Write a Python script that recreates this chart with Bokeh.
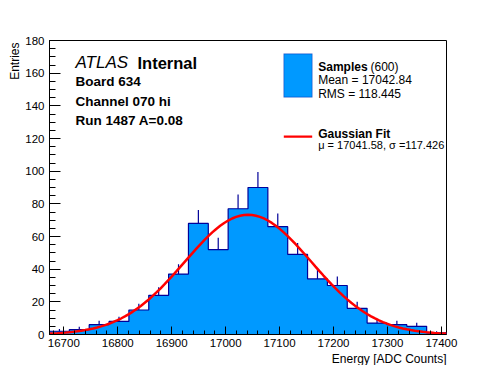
import numpy as np
from bokeh.plotting import figure
from bokeh.models import Range1d, FixedTicker, Label, BoxAnnotation, Title
from bokeh.embed import file_html
from bokeh.resources import INLINE

# ---- data ----
bin_low = 16673.5
bin_width = 36.8
counts = [2, 3, 6, 8, 15, 24, 37, 68, 52, 77, 90, 66, 49, 34, 30, 16, 7, 6, 5, 1]
fit_const = 73.3
fit_mu = 17041.58
fit_sigma = 117.426
x_ticks = [16700, 16800, 16900, 17000, 17100, 17200, 17300, 17400]
x_minor = list(range(16680, 17410, 20))
y_ticks = [0, 20, 40, 60, 80, 100, 120, 140, 160, 180]
y_minor = list(range(0, 181, 5))
y_max = 180

FONT = "Liberation Sans"
FILL = "#0099ff"
NAVY = "#000099"

n = len(counts)
edges = bin_low + bin_width * np.arange(n + 1)
cnt = np.array(counts, dtype=float)
centers = 0.5 * (edges[:-1] + edges[1:])

p = figure(frame_width=397, frame_height=294,
           min_border_left=49, min_border_right=42,
           min_border_top=40, min_border_bottom=30,
           x_range=Range1d(edges[0], edges[-1]), y_range=Range1d(0, y_max),
           output_backend="svg", toolbar_location=None)
p.background_fill_color = "white"
p.border_fill_color = "white"
p.outline_line_color = "black"
p.outline_line_width = 1
p.grid.visible = False

# histogram as a step polygon (fill) + outline
xs = np.repeat(edges, 2)
ys = np.concatenate([[0], np.repeat(cnt, 2), [0]])
p.patch(xs, ys, fill_color=FILL, line_color=None)
# error bars (upper half)
p.segment(x0=centers, y0=cnt, x1=centers, y1=cnt + np.sqrt(cnt),
          line_color=NAVY, line_width=1.2)
p.line(xs, ys, line_color=NAVY, line_width=1.2)

# gaussian fit
fx = np.linspace(edges[0], edges[-1], 101)
fy = fit_const * np.exp(-0.5 * ((fx - fit_mu) / fit_sigma) ** 2)
p.line(fx, fy, line_color="#ff0000", line_width=2.5)

# axes
for ax in (p.xaxis[0], p.yaxis[0]):
    ax.axis_line_color = "black"
    ax.major_tick_line_color = "black"
    ax.minor_tick_line_color = "black"
    ax.major_tick_out = 0
    ax.minor_tick_out = 0
    ax.major_label_text_font = FONT
    ax.major_label_text_font_size = "11.5px"
    ax.major_label_text_color = "black"
p.xaxis.ticker = FixedTicker(ticks=x_ticks, minor_ticks=x_minor)
p.yaxis.ticker = FixedTicker(ticks=y_ticks, minor_ticks=y_minor)
p.xaxis.major_tick_in = 8
p.xaxis.minor_tick_in = 4
p.yaxis.major_tick_in = 11
p.yaxis.minor_tick_in = 6
p.xaxis.major_label_standoff = 4
p.yaxis.major_label_standoff = 5

# axis titles (outside the frame)
p.add_layout(Title(text="Entries", align="right", text_font=FONT, text_font_size="12px",
                   text_font_style="normal", text_color="black", standoff=2, offset=2), "left")
p.add_layout(Title(text="Energy [ADC Counts]", align="right", text_font=FONT,
                   text_font_size="12px", text_font_style="normal", text_color="black",
                   standoff=0), "below")

# page -> frame screen coords
FL, FB = 49, 334


def lab(px, py, text, size, style="normal", align="left"):
    p.add_layout(Label(x=px - FL, y=FB - py, x_units="screen", y_units="screen",
                       text=text, text_font=FONT, text_font_size=size,
                       text_font_style=style, text_align=align,
                       text_baseline="alphabetic", text_color="black"))


lab(75, 62, "ATLAS", "17px", style="italic")
lab(137, 62, "Internal", "16.5px", style="bold")
lab(75, 80.7, "Board 634", "13.5px", style="bold")
lab(75, 100.7, "Channel 070 hi", "13.5px", style="bold")
lab(75, 120.3, "Run 1487 A=0.08", "13.5px", style="bold")

# legend
p.add_layout(BoxAnnotation(left=283.3 - FL, right=311.7 - FL, top=FB - 53.3, bottom=FB - 96.7,
                           left_units="screen", right_units="screen",
                           top_units="screen", bottom_units="screen",
                           fill_color=FILL, fill_alpha=1, line_color=NAVY, line_width=1.2))
p.add_layout(BoxAnnotation(left=283.3 - FL, right=311.7 - FL, top=FB - 135, bottom=FB - 137.2,
                           left_units="screen", right_units="screen",
                           top_units="screen", bottom_units="screen",
                           fill_color="#ff0000", fill_alpha=1, line_color=None))
lab(317.7, 66, "Samples", "12px", style="bold")
lab(370, 66, "(600)", "12px")
lab(317.7, 79.5, "Mean = 17042.84", "12px")
lab(317.7, 93.3, "RMS = 118.445", "12px")
lab(317.7, 133.3, "Gaussian Fit", "12px", style="bold")
lab(317.7, 144.5, "\u03bc = 17041.58, \u03c3 =117.426", "11px")

open("out.html", "w").write(file_html(p, INLINE))
